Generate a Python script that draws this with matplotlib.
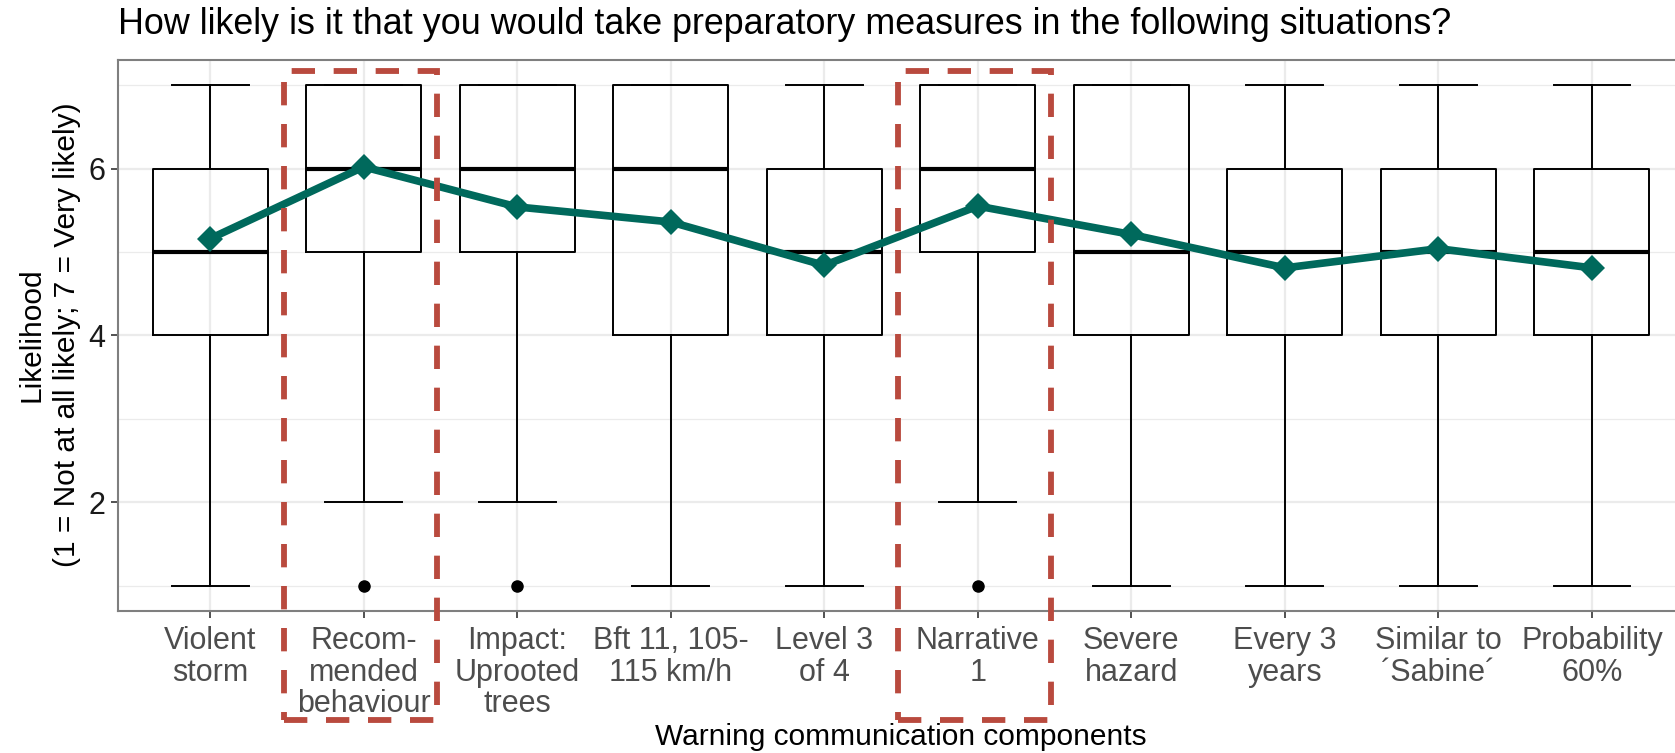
import matplotlib
matplotlib.use("Agg")
import matplotlib.pyplot as plt
from matplotlib.patches import Rectangle

plt.rcParams['font.family'] = ['Liberation Sans', 'DejaVu Sans']

categories = ["Violent\nstorm", "Recom-\nmended\nbehaviour", "Impact:\nUprooted\ntrees",
              "Bft 11, 105-\n115 km/h", "Level 3\nof 4", "Narrative\n1", "Severe\nhazard",
              "Every 3\nyears", "Similar to\n\u00b4Sabine\u00b4", "Probability\n60%"]
whis_low = [1, 2, 2, 1, 1, 2, 1, 1, 1, 1]
q1 = [4, 5, 5, 4, 4, 5, 4, 4, 4, 4]
median = [5, 6, 6, 6, 5, 6, 5, 5, 5, 5]
q3 = [6, 7, 7, 7, 6, 7, 7, 6, 6, 6]
whis_high = [7, 7, 7, 7, 7, 7, 7, 7, 7, 7]
outliers = [[], [1], [1], [], [], [1], [], [], [], []]
means = [5.16, 6.02, 5.54, 5.36, 4.84, 5.55, 5.21, 4.81, 5.04, 4.81]
highlighted = [2, 6]  # 1-based category positions with dashed frames

title = "How likely is it that you would take preparatory measures in the following situations?"
xlabel = "Warning communication components"
ylabel = "Likelihood\n(1 = Not at all likely; 7 = Very likely)"

W, H = 1675, 753
fig = plt.figure(figsize=(W/100, H/100), dpi=100)
ax_left, ax_right, ax_top, ax_bottom = 118, 1684, 60, 611
ax = fig.add_axes([ax_left/W, 1-ax_bottom/H, (ax_right-ax_left)/W, (ax_bottom-ax_top)/H])

n = len(categories)
pos = list(range(1, n+1))
stats = []
for i in range(n):
    stats.append(dict(med=median[i], q1=q1[i], q3=q3[i], whislo=whis_low[i],
                      whishi=whis_high[i], fliers=outliers[i]))

ax.bxp(stats, positions=pos, widths=0.75, showfliers=True, patch_artist=False,
       boxprops=dict(color='black', linewidth=1.4),
       whiskerprops=dict(color='black', linewidth=1.4),
       capprops=dict(color='black', linewidth=1.4),
       medianprops=dict(color='black', linewidth=3.0, solid_capstyle='butt'),
       flierprops=dict(marker='o', markerfacecolor='black', markeredgecolor='black',
                       markersize=8, linestyle='none'),
       capwidths=0.5, zorder=3)

ax.plot(pos, means, color='#00695C', linewidth=5.5, marker='D', markersize=13,
        markeredgewidth=0, zorder=5, solid_joinstyle='round')

for c in highlighted:
    r = Rectangle((c - 0.52, -0.6), 1.0, 7.77, fill=False, edgecolor='#B94A3E',
                  linewidth=4.2, linestyle=(0, (4, 3.2)), clip_on=False, zorder=10)
    ax.add_patch(r)

ax.set_xlim(0.4, n + 0.6)
ax.set_ylim(0.7, 7.3)
ax.set_xticks(pos)
ax.set_xticklabels(categories, fontsize=22, color='#4D4D4D', linespacing=1.06)
ax.set_yticks([2, 4, 6])
ax.set_yticklabels(['2', '4', '6'], fontsize=22, color='#1A1A1A')
ax.set_yticks([1, 3, 5, 7], minor=True)
ax.tick_params(axis='both', which='major', length=5, width=1.2, color='#333333', pad=4)
ax.tick_params(axis='x', which='major', pad=6)
ax.tick_params(axis='y', which='minor', length=0)
ax.grid(True, which='major', color='#EBEBEB', linewidth=1.6, zorder=0)
ax.grid(True, which='minor', axis='y', color='#EBEBEB', linewidth=0.9, zorder=0)
ax.set_axisbelow(True)
for s in ax.spines.values():
    s.set_color('#7F7F7F')
    s.set_linewidth(1.5)

fig.text(0.5 * (ax_left + ax_right) / W, 1 - 737/H, xlabel, fontsize=21.5, ha='center',
         va='center', color='black')
fig.text(49/W, 1 - 335/H, ylabel, fontsize=21.5, ha='center', va='center',
         rotation=90, multialignment='center', linespacing=1.35, color='black')
fig.text(ax_left/W, 1-24/H, title, fontsize=25.8, ha='left', va='center', color='black')

fig.savefig('out.png', dpi=100)
